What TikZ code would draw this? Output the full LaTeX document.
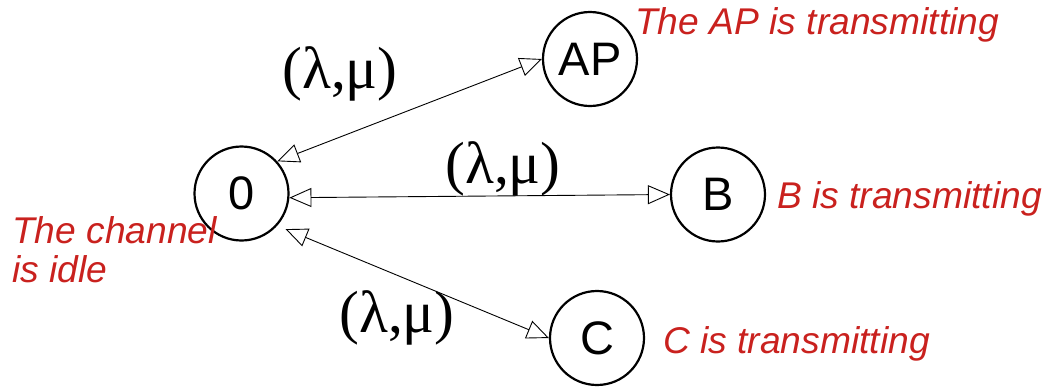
\documentclass[tikz,border=0pt]{standalone}
\usepackage{fontspec}
\setmainfont{Liberation Sans}
\newfontfamily\lblserif{Liberation Serif}
\usetikzlibrary{arrows.meta}
\definecolor{annot}{HTML}{C9211E}
\begin{document}
\begin{tikzpicture}[x=1pt,y=-1pt,
  state/.style={circle,draw=black,line width=2.2pt,minimum size=94pt,inner sep=0pt,
    font=\fontsize{47}{52}\selectfont},
  link/.style={line width=0.9pt,{Triangle[open,length=22pt,width=19pt]}-{Triangle[open,length=22pt,width=19pt]}},
  rate/.style={inner sep=0pt,font=\lblserif\fontsize{59.5}{64}\selectfont},
  note/.style={inner sep=0pt,anchor=base west,text=annot,font=\itshape\fontsize{37.2}{40}\selectfont,align=left}]
\useasboundingbox (0,0) rectangle (1046,386);
\node[state] (zero) at (241.5,193.5) {0};
\node[state] (ap) at (590,59) {AP};
\node[state] (b) at (718,194.5) {B};
\node[state] (c) at (597,338) {C};
\draw[link] (zero.42) -- (ap.180);
\draw[link] (zero.-5) -- (b.west);
\draw[link,shorten <=9pt] (zero.-42) -- (c.west);
\node[rate] (r1) at (340,74) {(λ,μ)};
\node[rate] (r2) at (503,169) {(λ,μ)};
\node[rate] (r3) at (397,318) {(λ,μ)};
\node[note] (nap) at (635,34) {The AP is transmitting};
\node[note] (nb) at (777,208) {B is transmitting};
\node[note] (nc) at (663,353) {C is transmitting};
\node[note] (nz) at (12,243) {The channel};
\node[note] (nz2) at (12,282) {is idle};
\end{tikzpicture}
\end{document}
